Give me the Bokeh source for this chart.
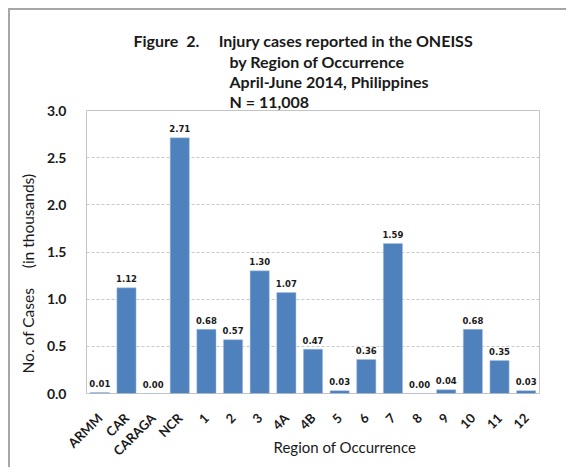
import math
from bokeh.plotting import figure
from bokeh.models import ColumnDataSource, Title, FixedTicker, PrintfTickFormatter
from bokeh.core.properties import value
from bokeh.embed import file_html
from bokeh.resources import INLINE

# ---- data ----
regions = ["ARMM", "CAR", "CARAGA", "NCR", "1", "2", "3", "4A", "4B",
           "5", "6", "7", "8", "9", "10", "11", "12"]
cases_thousands = [0.01, 1.12, 0.00, 2.71, 0.68, 0.57, 1.30, 1.07, 0.47,
                   0.03, 0.36, 1.59, 0.00, 0.04, 0.68, 0.35, 0.03]
y_ticks = [0.0, 0.5, 1.0, 1.5, 2.0, 2.5, 3.0]
NB = "\u00a0"
title_line1 = "Figure" + NB * 2 + "2." + NB * 5 + "Injury cases reported in the ONEISS"
title_lines = ["by Region of Occurrence",
               "April-June 2014, Philippines",
               "N = 11,008"]
x_title = "Region of Occurrence"
y_title = "No. of Cases" + NB * 5 + "(in thousands)"

# ---- layout ----
p = figure(x_range=regions, y_range=(0, 3.0), frame_width=453, frame_height=283,
           title=None, output_backend="svg", toolbar_location=None,
           min_border_left=76, min_border_right=27,
           min_border_top=100, min_border_bottom=63)
p.styles = {"margin-left": "8px", "margin-top": "8px",
            "border-left": "2px solid #a6a6a6", "border-top": "2px solid #a6a6a6"}
p.x_range.range_padding = 0
p.outline_line_color = "#c4c4c4"
p.background_fill_color = "white"
p.border_fill_color = "white"

src = ColumnDataSource(dict(region=regions, cases=cases_thousands,
                            lbl=[f"{v:.2f}" for v in cases_thousands]))
p.vbar(x="region", top="cases", width=0.72, source=src,
       fill_color="#4f81bd", line_color="#a9c3e3", line_width=0.5)
p.text(x="region", y="cases", text="lbl", source=src,
       text_font=value("DejaVu Sans"), text_font_style="bold",
       text_font_size="8.5px", text_color="#1a1a1a",
       text_align="center", text_baseline="alphabetic", y_offset=-9)

# axes
p.xaxis.axis_line_color = None
p.xaxis.major_tick_line_color = None
p.xaxis.minor_tick_line_color = None
p.xaxis.major_label_orientation = math.pi / 4
p.xaxis.major_label_text_font = "Lato"
p.xaxis.major_label_text_font_style = "bold"
p.xaxis.major_label_text_font_size = "13px"
p.xaxis.major_label_text_color = "#1a1a1a"
p.xaxis.major_label_standoff = 16

p.yaxis.ticker = FixedTicker(ticks=y_ticks)
p.yaxis.formatter = PrintfTickFormatter(format="%.1f")
p.yaxis.axis_line_color = None
p.yaxis.major_tick_line_color = None
p.yaxis.minor_tick_line_color = None
p.yaxis.major_label_text_font = "Lato"
p.yaxis.major_label_text_font_style = "bold"
p.yaxis.major_label_text_font_size = "14px"
p.yaxis.major_label_text_color = "#1a1a1a"
p.yaxis.major_label_standoff = 14

p.xgrid.grid_line_color = None
p.ygrid.grid_line_color = "#c8c8c8"
p.ygrid.grid_line_dash = "3 2"
p.ygrid.grid_line_width = 1

# titles (first added sits nearest the frame)
def title(text, side, offset, size, bold=True, standoff=0, valign="bottom"):
    p.add_layout(Title(text=text, align="left", offset=offset,
                       vertical_align=valign, text_font="Lato",
                       text_font_style="bold" if bold else "normal",
                       text_font_size=size, text_color="#1a1a1a",
                       standoff=standoff), side)

row_standoffs = [0, -2, 0]          # N line, April line, by-Region line
for t, s in zip(reversed(title_lines), row_standoffs):
    title(t, "above", 143, "16px", standoff=s)
title(title_line1, "above", 47, "16px")
title(y_title, "left", 20, "15.5px", bold=False, standoff=13)
title(x_title, "below", 187, "15px", bold=False, standoff=-60, valign="top")

open("out.html", "w").write(file_html(p, INLINE))
